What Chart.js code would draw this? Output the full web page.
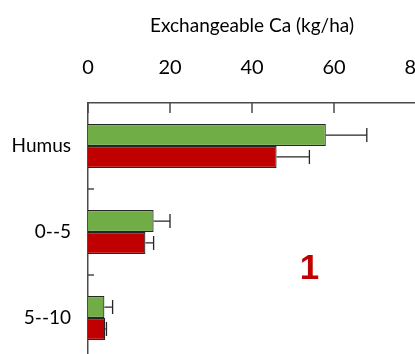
<!DOCTYPE html>
<html>
<head>
<meta charset="utf-8">
<script src="https://cdn.jsdelivr.net/npm/chart.js@4"></script>
<style>
  html, body { margin: 0; padding: 0; background: #fff; overflow: hidden; }
</style>
</head>
<body>
<canvas id="chartCa" width="440" height="370"></canvas>
<script>
const layers = ['Humus', '0--5', '5--10'];
const greenValues = [58, 16, 4];
const greenErrors = [10, 4, 2];
const redValues = [46, 14, 4.2];
const redErrors = [8, 2, 0.3];
const xTicks = [0, 20, 40, 60, 80];
const xTitle = 'Exchangeable Ca (kg/ha)';

const FONT = "Lato, 'Open Sans', sans-serif";
const AXIS = '#4a4a4a';

// axis title, error bars, inner tick marks and the panel number
const extras = {
  id: 'extras',
  afterDatasetsDraw(chart) {
    const ctx = chart.ctx;
    const x = chart.scales.x;
    const y = chart.scales.y;
    const area = chart.chartArea;
    const errs = [greenErrors, redErrors];

    ctx.save();
    ctx.fillStyle = '#000';
    ctx.font = '19px ' + FONT;
    ctx.textAlign = 'center';
    ctx.textBaseline = 'middle';
    ctx.fillText(xTitle, (area.left + area.right) / 2, 26);

    ctx.strokeStyle = '#262626';
    ctx.lineWidth = 1.3;
    chart.data.datasets.forEach((ds, i) => {
      const meta = chart.getDatasetMeta(i);
      meta.data.forEach((bar, j) => {
        const end = x.getPixelForValue(ds.data[j] + errs[i][j]);
        const cap = 7;
        ctx.beginPath();
        ctx.moveTo(bar.x, bar.y);
        ctx.lineTo(end, bar.y);
        ctx.moveTo(end, bar.y - cap);
        ctx.lineTo(end, bar.y + cap);
        ctx.stroke();
      });
    });

    // ticks pointing into the plot
    ctx.strokeStyle = AXIS;
    ctx.lineWidth = 1.5;
    xTicks.forEach(v => {
      const px = x.getPixelForValue(v);
      ctx.beginPath();
      ctx.moveTo(px, area.top);
      ctx.lineTo(px, area.top + 10);
      ctx.stroke();
    });
    for (let k = 1; k < layers.length; k++) {
      const py = (y.getPixelForValue(k - 1) + y.getPixelForValue(k)) / 2;
      ctx.beginPath();
      ctx.moveTo(area.left, py);
      ctx.lineTo(area.left + 6, py);
      ctx.stroke();
    }

    ctx.fillStyle = '#c00000';
    ctx.font = "bold 35px 'Liberation Sans', Arial, sans-serif";
    ctx.fillText('1', area.left + (area.right - area.left) * 0.675, area.top + (area.bottom - area.top) * 0.645);
    ctx.restore();
  }
};

new Chart(document.getElementById('chartCa'), {
  type: 'bar',
  data: {
    labels: layers,
    datasets: [{
      data: greenValues,
      backgroundColor: '#70ad47',
      borderColor: '#262626',
      borderWidth: 1.2,
      categoryPercentage: 0.51,
      barPercentage: 1
    }, {
      data: redValues,
      backgroundColor: '#c00000',
      borderColor: '#262626',
      borderWidth: 1.2,
      categoryPercentage: 0.51,
      barPercentage: 1
    }]
  },
  options: {
    indexAxis: 'y',
    responsive: false,
    animation: false,
    layout: { padding: { left: 0, top: 0, right: 24, bottom: 9 } },
    plugins: { legend: { display: false }, tooltip: { enabled: false } },
    scales: {
      x: {
        position: 'top',
        min: 0,
        max: 80,
        afterFit: s => { s.height = 103; s.paddingLeft = 0; s.paddingRight = 0; },
        afterBuildTicks: s => { s.ticks = xTicks.map(v => ({ value: v })); },
        ticks: { color: '#000', padding: 23, font: { family: FONT, size: 20 } },
        grid: { display: false, drawTicks: false },
        border: { display: true, color: AXIS, width: 1.5 }
      },
      y: {
        afterFit: s => { s.width = 88; s.paddingTop = 0; s.paddingBottom = 0; },
        ticks: { color: '#000', padding: 17, font: { family: FONT, size: 19 } },
        grid: { display: false, drawTicks: false },
        border: { display: true, color: AXIS, width: 1.5 }
      }
    }
  },
  plugins: [extras]
});
</script>
</body>
</html>
